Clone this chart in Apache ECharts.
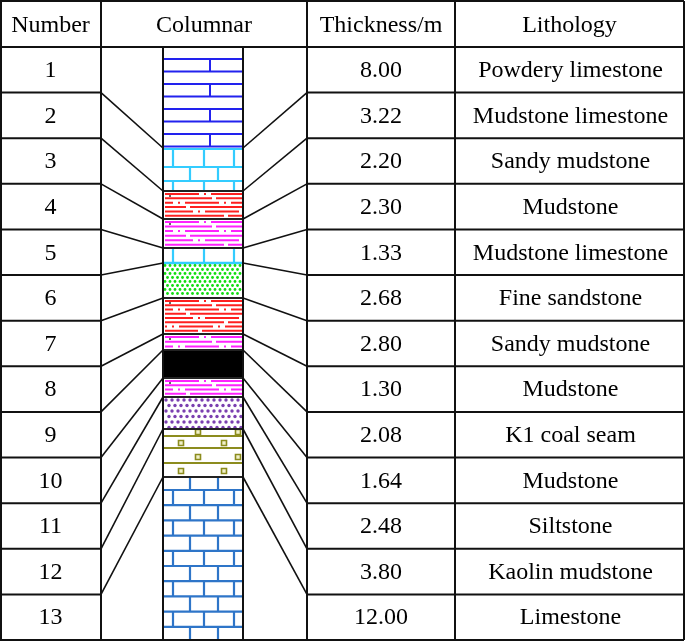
<!DOCTYPE html>
<html><head><meta charset="utf-8">
<script src="https://cdn.jsdelivr.net/npm/echarts@6/dist/echarts.min.js"></script>
<style>html,body{margin:0;padding:0;background:#fff}#c{width:685px;height:642px}</style>
</head><body><div id="c"></div>
<script>
var headers = ['Number','Columnar','Thickness/m','Lithology'];
var numbers = ['1','2','3','4','5','6','7','8','9','10','11','12','13'];
var thickness = ['8.00','3.22','2.20','2.30','1.33','2.68','2.80','1.30','2.08','1.64','2.48','3.80','12.00'];
var lithology = ['Powdery limestone','Mudstone limestone','Sandy mudstone','Mudstone','Mudstone limestone','Fine sandstone','Sandy mudstone','Mudstone','K1 coal seam','Mudstone','Siltstone','Kaolin mudstone','Limestone'];
// drawn depth of each layer boundary in the columnar section (axis units)
var layerEdges = [47,148,191,219,248,263,298,334,350,378,397,429,477,640];
var layerPattern = ['brickBlue','brickCyan','mudRed','mudMagenta','brickCyanThin','sandGreen','mudRed','mudMagenta','coal','mudMagenta','dotPurple','kaolin','limestone'];

var X0=0,XN=101,XC1=163,XC2=243,XR=307,XT=455,XE=684,YT=1,YH=47,YB=640;
var rowH=(YB-YH)/13;

var chart = echarts.init(document.getElementById('c'),null,{renderer:'canvas'});
var api0;
function P(x,y){return api0.coord([x,y]);}
function L(x1,y1,x2,y2,c,w,dash,off){var a=P(x1,y1),b=P(x2,y2);
  return {type:'line',shape:{x1:a[0],y1:a[1],x2:b[0],y2:b[1]},style:{stroke:c,lineWidth:w||1.5,lineDash:dash||null,lineDashOffset:off||0}};}
function R(x1,y1,x2,y2,fill,stroke,w){var a=P(x1,y1),b=P(x2,y2);
  return {type:'rect',shape:{x:a[0],y:a[1],width:b[0]-a[0],height:b[1]-a[1]},style:{fill:fill,stroke:stroke||null,lineWidth:w||1}};}
function C(x,y,r,fill){var a=P(x,y);return {type:'circle',shape:{cx:a[0],cy:a[1],r:r},style:{fill:fill}};}
function T(x,y,s){var a=P(x,y);return {type:'text',x:a[0],y:a[1],style:{text:s,fill:'#000',font:'24px "Liberation Serif"',align:'center',verticalAlign:'middle'}};}

function tableItem(params,api){
  api0=api; var ch=[];
  var k='#111';
  ch.push(L(X0,YT,XE,YT,k,2)); ch.push(L(X0,YH,XE,YH,k,2)); ch.push(L(X0,YB,XE,YB,k,2));
  [X0+1,XN,XR,XT,XE].forEach(function(x){ch.push(L(x,YT,x,YB,k,2));});
  ch.push(L(XC1,YH,XC1,YB,k,2)); ch.push(L(XC2,YH,XC2,YB,k,2));
  for(var i=1;i<13;i++){
    var y=YH+rowH*i, ly=layerEdges[i];
    ch.push(L(X0,y,XN,y,k,2)); ch.push(L(XR,y,XE,y,k,2));
    ch.push(L(XN,y,XC1,ly,k,1.6)); ch.push(L(XC2,ly,XR,y,k,1.6));
  }
  ch.push(T((X0+XN)/2,26,headers[0]));ch.push(T((XN+XR)/2,26,headers[1]));
  ch.push(T((XR+XT)/2,26,headers[2]));ch.push(T((XT+XE)/2,26,headers[3]));
  for(var j=0;j<13;j++){var cy=YH+rowH*(j+0.5)+1;
    ch.push(T((X0+XN)/2,cy,numbers[j]));ch.push(T((XR+XT)/2,cy,thickness[j]));ch.push(T((XT+XE)/2+1,cy,lithology[j]));}
  return {type:'group',children:ch};
}
function mud(ch,y1,y2,col){
  var n=Math.round((y2-y1)/4.6);
  for(var i=0;i<n;i++){var y=y1+3+i*(y2-y1-4)/(n-0.5);
    var dash=(i%2==0)?[34,5,2,5]:[60,4];
    ch.push(L(XC1+2,y,XC2,y,col,2,dash,i*13));}
  ch.push(C(XC1+7,y1+5,1,'#333'));
}
function layerItem(params,api){
  api0=api; var i=params.dataIndex; var y1=api.value(0),y2=api.value(1); var pat=layerPattern[i]; var ch=[];
  var xa=XC1,xb=XC2;
  if(pat=='brickBlue'){var c='#2222ee';
    for(var g=0;g<8;g++){var y=59+12.5*g;ch.push(L(xa,y,xb,y,c,2)); if(g%2==0&&g<7) ch.push(L(210,y,210,y+12.5,c,2));}
  } else if(pat=='brickCyan'){var c='#33ccff';
    [149,167,181].forEach(function(y){ch.push(L(xa,y,xb,y,c,2.2));});
    [173,204,234].forEach(function(x){ch.push(L(x,149,x,167,c,2.2));ch.push(L(x,181,x,y2,c,2.2));});
    [190,218].forEach(function(x){ch.push(L(x,167,x,181,c,2.2));});
  } else if(pat=='brickCyanThin'){var c='#33ccff';
    [173,204,234].forEach(function(x){ch.push(L(x,y1,x,y2,c,2.2));});
    ch.push(L(xa,y2,xb,y2,c,2.4));
  } else if(pat=='mudRed'){mud(ch,y1,y2,'#ff2020');
  } else if(pat=='mudMagenta'){mud(ch,y1,y2,'#ff22ff');
  } else if(pat=='coal'){ch.push(R(xa,y1,xb,y2,'#000'));
  } else if(pat=='sandGreen'){
    for(var yy=y1+2.5,r=0;yy<y2-1;yy+=4,r++) for(var xx=xa+2+(r%2)*2.5;xx<xb-1;xx+=5) ch.push(C(xx,yy,1.4,'#11dd11'));
  } else if(pat=='dotPurple'){
    for(var yy=y1+3,r=0;yy<y2-1;yy+=5.5,r++) for(var xx=xa+3+(r%2)*3;xx<xb-1;xx+=6) ch.push(C(xx,yy,1.7,'#7a3fb0'));
  } else if(pat=='kaolin'){var c='#8c8c1e';
    [436,448,463].forEach(function(y){ch.push(L(xa,y,xb,y,c,2));});
    [[198,432],[238,432],[181,443],[224,443],[198,457],[238,457],[181,471],[224,471]].forEach(function(q){ch.push(R(q[0]-2.5,q[1]-2.5,q[0]+2.5,q[1]+2.5,'#f0f0c8',c,1.6));});
  } else if(pat=='limestone'){var c='#2e75c8';
    var ys=[y1];for(var y=490;y<y2;y+=15.2) ys.push(y); ys.push(y2);
    for(var g=0;g<ys.length-1;g++){ if(g>0) ch.push(L(xa,ys[g],xb,ys[g],c,2.2));
      var xs=(g%2==0)?[190,218]:[173,204,234]; xs.forEach(function(x){ch.push(L(x,ys[g],x,ys[g+1],c,2.2));});}
  }
  if(i>0 && pat!='brickCyan' && layerPattern[i-1]!='brickCyanThin') ch.push(L(xa,y1,xb,y1,'#222',2));
  return {type:'group',children:ch};
}
var layerData=[];for(var i=0;i<13;i++) layerData.push([layerEdges[i],layerEdges[i+1]]);
chart.setOption({
  animation:false,
  grid:{left:0,right:0,top:0,bottom:0},
  xAxis:{type:'value',min:0,max:685,show:false},
  yAxis:{type:'value',min:0,max:642,inverse:true,show:false},
  series:[
    {type:'custom',renderItem:layerItem,data:layerData,silent:true,clip:false},
    {type:'custom',renderItem:tableItem,data:[[0,0]],silent:true,clip:false}
  ]
});
</script></body></html>
